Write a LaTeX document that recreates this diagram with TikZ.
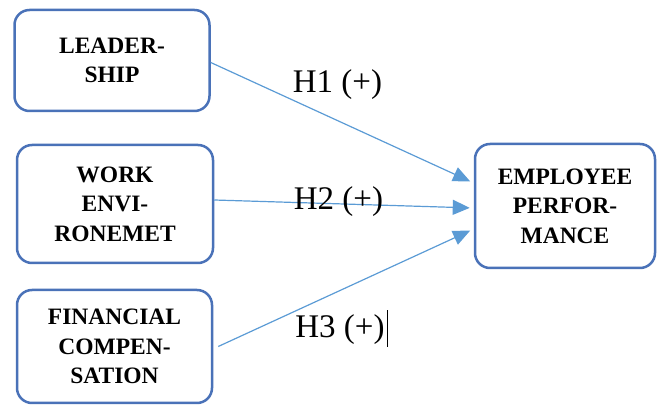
\documentclass[tikz,border=0pt]{standalone}
\usepackage{fontspec}
\setmainfont{Liberation Serif}
\usetikzlibrary{arrows.meta}
\definecolor{boxblue}{HTML}{4A72B8}
\definecolor{arrblue}{HTML}{5B9BD5}
\begin{document}
\begin{tikzpicture}[x=1pt,y=1pt,
  box/.style={draw=boxblue, line width=2.5pt, rounded corners=15pt, align=center,
    font=\bfseries\fontsize{23.5}{29.5}\selectfont, inner sep=0pt},
  link/.style={draw=arrblue, line width=1.2pt, -{Triangle[length=17pt,width=15pt]}, shorten >=4pt},
  hyp/.style={font=\fontsize{33}{33}\selectfont, anchor=base, inner sep=0pt}]
\useasboundingbox (0,0) rectangle (657,407);
\node[box, minimum width=195pt, minimum height=101pt] (lead) at (112,346.5) {LEADER-\\SHIP};
\node[box, minimum width=196pt, minimum height=118pt] (work) at (115,203) {WORK\\ENVI-\\RONEMET};
\node[box, minimum width=195pt, minimum height=113pt] (fin) at (114.5,60.5) {FINANCIAL\\COMPEN-\\SATION};
\node[box, minimum width=180pt, minimum height=124pt] (emp) at (565,201) {EMPLOYEE\\PERFOR-\\MANCE};
\draw[link] ([yshift=-2pt]lead.east) -- ([yshift=23pt]emp.west);
\draw[link] ([yshift=4pt]work.east) -- ([yshift=-2pt]emp.west);
\draw[link] ([xshift=5pt]fin.east) -- ([yshift=-23pt]emp.west);
\node[hyp] (h1) at (337.5,314) {H1 (+)};
\node[hyp] (h2) at (338.5,197) {H2 (+)};
\node[hyp] (h3) at (340,69) {H3 (+)};
\draw[line width=0.8pt] ([xshift=2.5pt,yshift=-9pt]h3.base east) -- ([xshift=2.5pt,yshift=28pt]h3.base east);
\end{tikzpicture}
\end{document}
